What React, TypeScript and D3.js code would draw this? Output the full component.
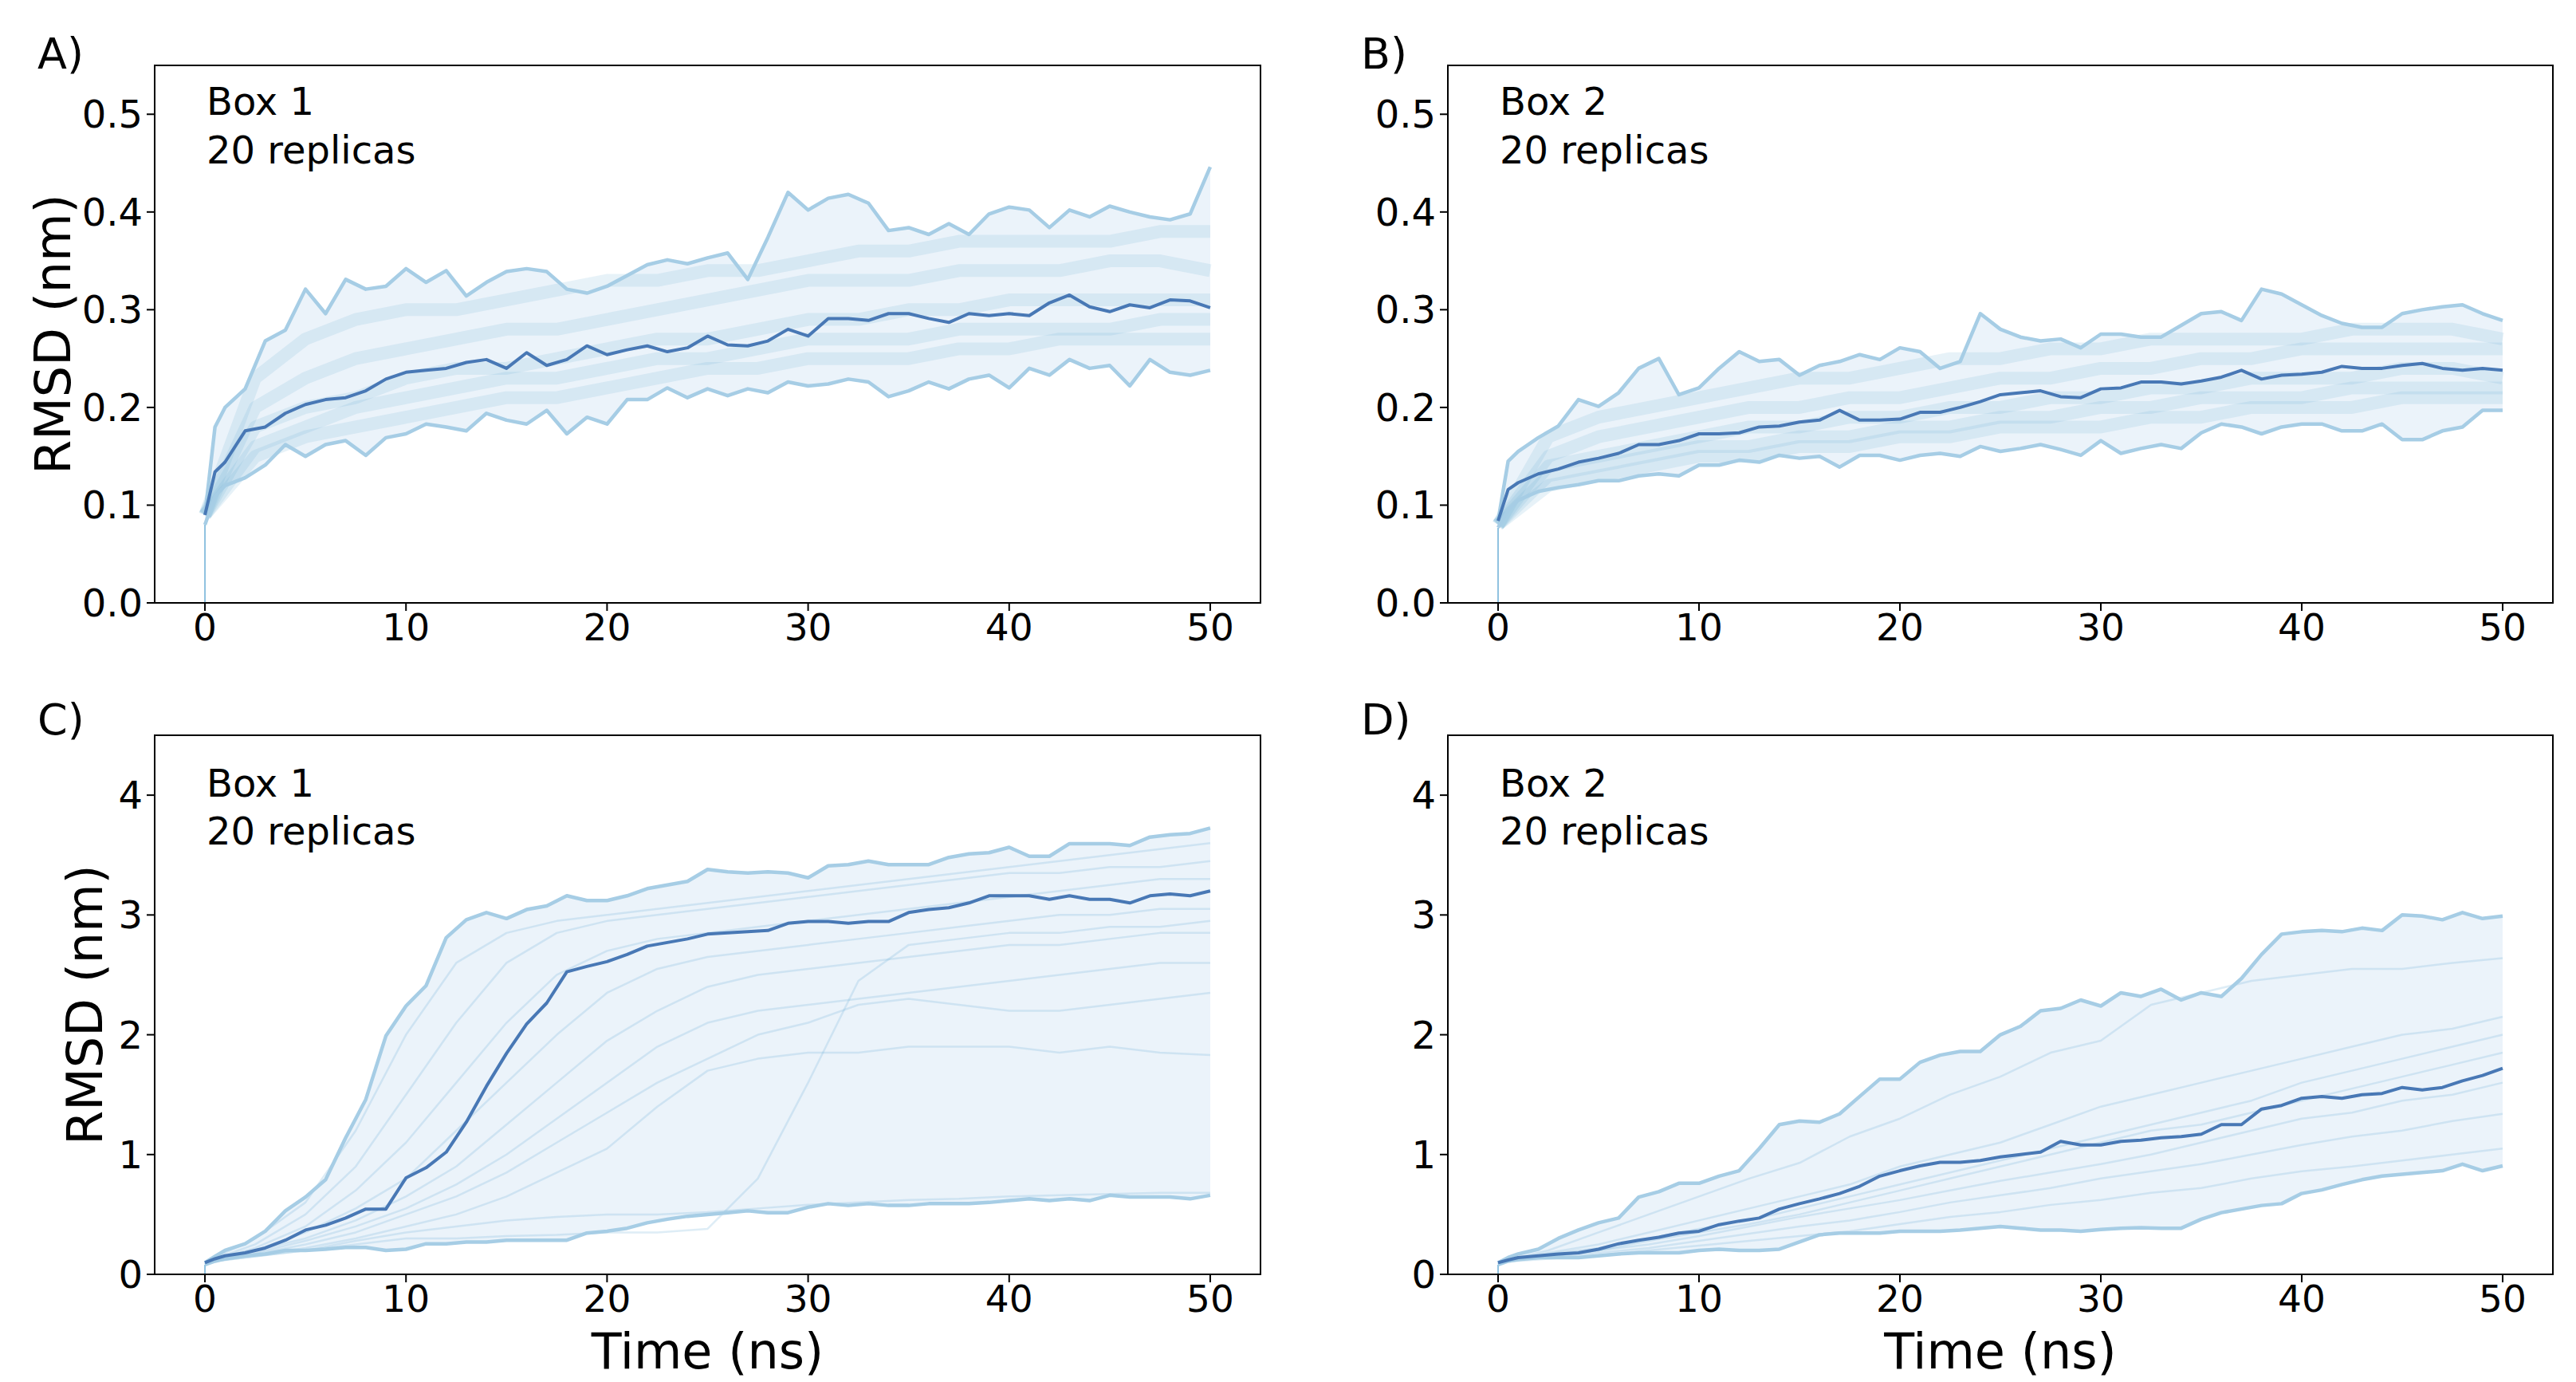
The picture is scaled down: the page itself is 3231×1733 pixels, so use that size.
import * as d3 from 'd3';

const W = 3231;
const H = 1733;
const FONT = "'DejaVu Sans', sans-serif";

// time grid (ns) for mean / envelope traces
const T_NS = [
  0, 0.5, 1, 2, 3, 4, 5, 6, 7, 8, 9, 10, 11, 12, 13, 14, 15, 16, 17, 18, 19, 20, 21, 22, 23, 24, 25,
  26, 27, 28, 29, 30, 31, 32, 33, 34, 35, 36, 37, 38, 39, 40, 41, 42, 43, 44, 45, 46, 47, 48, 49, 50,
];
// coarser grid for the individual replica traces
const T_REP = [0, 2.5, 5, 7.5, 10, 12.5, 15, 17.5, 20, 22.5, 25, 27.5, 30, 32.5, 35, 37.5, 40, 42.5, 45, 47.5, 50];

// ---- A) backbone RMSD, box 1
const A_MEAN = [
  0.09, 0.134, 0.144, 0.176, 0.18, 0.194, 0.203, 0.208, 0.21, 0.217, 0.229, 0.236, 0.238, 0.24, 0.246, 0.249,
  0.24, 0.256, 0.243, 0.249, 0.263, 0.254, 0.259, 0.263, 0.257, 0.261, 0.273, 0.264, 0.263, 0.268, 0.28, 0.273,
  0.291, 0.291, 0.289, 0.296, 0.296, 0.291, 0.287, 0.296, 0.294, 0.296, 0.294, 0.307, 0.315, 0.303, 0.298,
  0.305, 0.302, 0.31, 0.309, 0.302,
];
const A_MAX = [
  0.09, 0.18, 0.2, 0.219, 0.268, 0.279, 0.321, 0.296, 0.331, 0.321, 0.324, 0.342, 0.328, 0.34, 0.314, 0.328,
  0.339, 0.342, 0.339, 0.321, 0.317, 0.324, 0.335, 0.346, 0.351, 0.347, 0.353, 0.358, 0.331, 0.374, 0.42, 0.402,
  0.414, 0.418, 0.409, 0.381, 0.384, 0.377, 0.388, 0.377, 0.398, 0.405, 0.402, 0.384, 0.402, 0.395, 0.406, 0.4,
  0.395, 0.392, 0.398, 0.446,
];
const A_MIN = [
  0.08, 0.109, 0.12, 0.128, 0.141, 0.162, 0.15, 0.162, 0.166, 0.151, 0.169, 0.173, 0.183, 0.18, 0.176, 0.194,
  0.187, 0.183, 0.197, 0.173, 0.19, 0.183, 0.208, 0.208, 0.22, 0.21, 0.219, 0.212, 0.219, 0.215, 0.226, 0.222,
  0.224, 0.229, 0.226, 0.211, 0.217, 0.226, 0.219, 0.229, 0.233, 0.22, 0.24, 0.233, 0.249, 0.24, 0.243, 0.222,
  0.249, 0.236, 0.233, 0.238,
];
const A_REPS = [
  [0.09, 0.23, 0.27, 0.29, 0.3, 0.3, 0.31, 0.32, 0.33, 0.33, 0.34, 0.34, 0.35, 0.36, 0.36, 0.37, 0.37, 0.37, 0.37, 0.38, 0.38],
  [0.09, 0.2, 0.23, 0.25, 0.26, 0.27, 0.28, 0.28, 0.29, 0.3, 0.31, 0.32, 0.33, 0.33, 0.33, 0.34, 0.34, 0.34, 0.35, 0.35, 0.34],
  [0.09, 0.18, 0.2, 0.21, 0.23, 0.24, 0.24, 0.25, 0.26, 0.27, 0.27, 0.28, 0.29, 0.29, 0.3, 0.3, 0.31, 0.31, 0.31, 0.31, 0.31],
  [0.09, 0.16, 0.18, 0.2, 0.21, 0.22, 0.23, 0.23, 0.24, 0.25, 0.25, 0.26, 0.27, 0.27, 0.27, 0.28, 0.28, 0.28, 0.28, 0.29, 0.29],
  [0.09, 0.15, 0.17, 0.18, 0.19, 0.2, 0.21, 0.21, 0.22, 0.23, 0.24, 0.24, 0.25, 0.25, 0.25, 0.26, 0.26, 0.27, 0.27, 0.27, 0.27],
];

// ---- B) backbone RMSD, box 2
const B_MEAN = [
  0.084, 0.116, 0.123, 0.132, 0.137, 0.144, 0.148, 0.153, 0.162, 0.162, 0.166, 0.173, 0.173, 0.174, 0.18, 0.181,
  0.185, 0.187, 0.197, 0.187, 0.187, 0.188, 0.195, 0.195, 0.2, 0.206, 0.213, 0.215, 0.217, 0.211, 0.21, 0.219,
  0.22, 0.226, 0.226, 0.224, 0.227, 0.231, 0.238, 0.229, 0.233, 0.234, 0.236, 0.242, 0.24, 0.24, 0.243, 0.245,
  0.24, 0.238, 0.24, 0.238,
];
const B_MAX = [
  0.084, 0.145, 0.155, 0.169, 0.181, 0.208, 0.201, 0.215, 0.24, 0.25, 0.213, 0.22, 0.24, 0.257, 0.247, 0.249,
  0.233, 0.243, 0.247, 0.254, 0.249, 0.261, 0.257, 0.24, 0.247, 0.296, 0.28, 0.272, 0.268, 0.27, 0.261, 0.275,
  0.275, 0.272, 0.272, 0.284, 0.296, 0.298, 0.289, 0.321, 0.316, 0.305, 0.294, 0.286, 0.282, 0.282, 0.296, 0.3,
  0.303, 0.305, 0.296, 0.289,
];
const B_MIN = [
  0.077, 0.095, 0.105, 0.114, 0.118, 0.121, 0.125, 0.125, 0.13, 0.132, 0.13, 0.141, 0.141, 0.146, 0.144, 0.151,
  0.148, 0.15, 0.139, 0.151, 0.151, 0.146, 0.151, 0.153, 0.15, 0.16, 0.155, 0.158, 0.162, 0.157, 0.151, 0.166,
  0.153, 0.158, 0.162, 0.158, 0.174, 0.183, 0.18, 0.173, 0.18, 0.183, 0.183, 0.176, 0.176, 0.183, 0.167, 0.167,
  0.176, 0.18, 0.197, 0.197,
];
const B_REPS = [
  [0.08, 0.17, 0.19, 0.2, 0.21, 0.22, 0.23, 0.23, 0.24, 0.25, 0.25, 0.26, 0.26, 0.27, 0.27, 0.27, 0.27, 0.28, 0.28, 0.28, 0.27],
  [0.08, 0.15, 0.17, 0.18, 0.19, 0.2, 0.2, 0.21, 0.21, 0.22, 0.23, 0.23, 0.24, 0.24, 0.25, 0.25, 0.26, 0.26, 0.26, 0.26, 0.26],
  [0.08, 0.14, 0.15, 0.16, 0.17, 0.18, 0.18, 0.19, 0.19, 0.2, 0.2, 0.21, 0.21, 0.22, 0.22, 0.23, 0.23, 0.23, 0.24, 0.24, 0.23],
  [0.08, 0.13, 0.14, 0.15, 0.16, 0.16, 0.17, 0.17, 0.18, 0.18, 0.19, 0.19, 0.2, 0.2, 0.21, 0.21, 0.21, 0.22, 0.22, 0.22, 0.22],
  [0.08, 0.12, 0.13, 0.14, 0.15, 0.15, 0.16, 0.16, 0.17, 0.17, 0.18, 0.18, 0.18, 0.19, 0.19, 0.2, 0.2, 0.2, 0.21, 0.21, 0.21],
];

// ---- C) ligand RMSD, box 1
const C_MEAN = [
  0.097, 0.13, 0.155, 0.18, 0.22, 0.285, 0.37, 0.41, 0.47, 0.545, 0.545, 0.805, 0.89, 1.02, 1.27, 1.57, 1.845,
  2.09, 2.265, 2.525, 2.57, 2.61, 2.67, 2.74, 2.77, 2.8, 2.84, 2.85, 2.86, 2.87, 2.93, 2.945, 2.945, 2.93, 2.945,
  2.945, 3.02, 3.045, 3.06, 3.1, 3.16, 3.16, 3.16, 3.13, 3.16, 3.13, 3.13, 3.1, 3.16, 3.175, 3.16, 3.2,
];
const C_MAX = [
  0.097, 0.15, 0.2, 0.255, 0.36, 0.53, 0.645, 0.79, 1.14, 1.46, 1.99, 2.24, 2.41, 2.81, 2.96, 3.02, 2.97, 3.045,
  3.075, 3.16, 3.12, 3.12, 3.16, 3.22, 3.25, 3.28, 3.38, 3.36, 3.35, 3.36, 3.35, 3.31, 3.41, 3.42, 3.45, 3.42,
  3.42, 3.42, 3.48, 3.51, 3.52, 3.565, 3.49, 3.49, 3.595, 3.595, 3.595, 3.58, 3.65, 3.67, 3.68, 3.725,
];
const C_MIN = [
  0.08, 0.11, 0.13, 0.155, 0.17, 0.2, 0.2, 0.21, 0.225, 0.225, 0.2, 0.21, 0.255, 0.255, 0.27, 0.27, 0.285, 0.285,
  0.285, 0.285, 0.345, 0.36, 0.385, 0.43, 0.46, 0.485, 0.5, 0.515, 0.53, 0.515, 0.515, 0.56, 0.59, 0.575, 0.59,
  0.575, 0.575, 0.59, 0.59, 0.59, 0.6, 0.615, 0.63, 0.615, 0.63, 0.615, 0.66, 0.645, 0.645, 0.645, 0.63, 0.66,
];
const C_REPS = [
  [0.1, 0.3, 0.6, 1.2, 2.0, 2.6, 2.85, 2.95, 3.0, 3.05, 3.1, 3.15, 3.2, 3.25, 3.3, 3.35, 3.4, 3.45, 3.5, 3.55, 3.6],
  [0.1, 0.25, 0.5, 0.9, 1.5, 2.1, 2.6, 2.85, 2.95, 3.0, 3.05, 3.1, 3.15, 3.2, 3.25, 3.3, 3.35, 3.35, 3.4, 3.4, 3.45],
  [0.1, 0.22, 0.4, 0.7, 1.1, 1.6, 2.1, 2.5, 2.7, 2.8, 2.85, 2.9, 2.95, 3.0, 3.05, 3.1, 3.15, 3.2, 3.25, 3.3, 3.3],
  [0.1, 0.2, 0.35, 0.55, 0.8, 1.2, 1.6, 2.0, 2.35, 2.55, 2.65, 2.7, 2.75, 2.8, 2.85, 2.9, 2.95, 3.0, 3.0, 3.05, 3.05],
  [0.1, 0.2, 0.3, 0.45, 0.65, 0.9, 1.25, 1.6, 1.95, 2.2, 2.4, 2.5, 2.55, 2.6, 2.65, 2.7, 2.75, 2.75, 2.8, 2.85, 2.85],
  [0.1, 0.18, 0.28, 0.4, 0.55, 0.75, 1.0, 1.3, 1.6, 1.9, 2.1, 2.2, 2.25, 2.3, 2.35, 2.4, 2.45, 2.5, 2.55, 2.6, 2.6],
  [0.1, 0.17, 0.25, 0.35, 0.5, 0.65, 0.85, 1.1, 1.35, 1.6, 1.8, 2.0, 2.1, 2.25, 2.3, 2.25, 2.2, 2.2, 2.25, 2.3, 2.35],
  [0.1, 0.16, 0.22, 0.3, 0.4, 0.5, 0.65, 0.85, 1.05, 1.4, 1.7, 1.8, 1.85, 1.85, 1.9, 1.9, 1.9, 1.85, 1.9, 1.85, 1.83],
  [0.1, 0.15, 0.2, 0.25, 0.3, 0.3, 0.32, 0.33, 0.35, 0.35, 0.38, 0.8, 1.6, 2.45, 2.75, 2.8, 2.85, 2.85, 2.9, 2.9, 2.95],
  [0.1, 0.15, 0.2, 0.28, 0.35, 0.4, 0.45, 0.48, 0.5, 0.5, 0.52, 0.55, 0.58, 0.6, 0.62, 0.63, 0.65, 0.66, 0.67, 0.68, 0.68],
];

// ---- D) ligand RMSD, box 2
const D_MEAN = [
  0.097, 0.12, 0.14, 0.155, 0.17, 0.18, 0.21, 0.255, 0.285, 0.31, 0.345, 0.36, 0.415, 0.445, 0.47, 0.545, 0.59,
  0.63, 0.675, 0.735, 0.82, 0.865, 0.905, 0.935, 0.935, 0.95, 0.98, 1.0, 1.02, 1.11, 1.08, 1.08, 1.11, 1.12,
  1.14, 1.15, 1.17, 1.25, 1.25, 1.38, 1.41, 1.47, 1.485, 1.47, 1.5, 1.51, 1.56, 1.54, 1.56, 1.615, 1.66, 1.72,
];
const D_MAX = [
  0.097, 0.14, 0.17, 0.21, 0.3, 0.37, 0.43, 0.47, 0.645, 0.69, 0.76, 0.76, 0.82, 0.865, 1.05, 1.25, 1.28, 1.27,
  1.34, 1.485, 1.63, 1.63, 1.77, 1.83, 1.86, 1.86, 2.0, 2.07, 2.2, 2.22, 2.29, 2.24, 2.35, 2.32, 2.38, 2.29, 2.35,
  2.32, 2.47, 2.67, 2.84, 2.86, 2.87, 2.86, 2.89, 2.87, 3.0, 2.99, 2.96, 3.02, 2.97, 2.99,
];
const D_MIN = [
  0.08, 0.11, 0.125, 0.14, 0.14, 0.14, 0.155, 0.17, 0.18, 0.18, 0.18, 0.2, 0.21, 0.2, 0.2, 0.21, 0.27, 0.33,
  0.345, 0.345, 0.345, 0.36, 0.36, 0.36, 0.37, 0.385, 0.4, 0.385, 0.37, 0.37, 0.36, 0.375, 0.385, 0.39, 0.385,
  0.385, 0.46, 0.515, 0.545, 0.575, 0.59, 0.675, 0.705, 0.75, 0.79, 0.82, 0.835, 0.85, 0.865, 0.92, 0.865, 0.905,
];
const D_REPS = [
  [0.1, 0.2, 0.35, 0.5, 0.65, 0.8, 0.93, 1.15, 1.3, 1.5, 1.65, 1.85, 1.95, 2.25, 2.35, 2.45, 2.5, 2.55, 2.55, 2.6, 2.64],
  [0.1, 0.18, 0.25, 0.35, 0.45, 0.55, 0.65, 0.75, 0.9, 1.0, 1.1, 1.25, 1.4, 1.5, 1.6, 1.7, 1.8, 1.9, 2.0, 2.05, 2.15],
  [0.1, 0.17, 0.22, 0.3, 0.38, 0.45, 0.55, 0.65, 0.75, 0.85, 0.95, 1.05, 1.15, 1.25, 1.35, 1.45, 1.6, 1.7, 1.8, 1.9, 2.0],
  [0.1, 0.15, 0.2, 0.28, 0.35, 0.42, 0.5, 0.6, 0.7, 0.8, 0.9, 1.0, 1.1, 1.2, 1.25, 1.35, 1.45, 1.55, 1.65, 1.75, 1.85],
  [0.1, 0.15, 0.2, 0.25, 0.32, 0.4, 0.48, 0.55, 0.62, 0.7, 0.78, 0.85, 0.92, 1.0, 1.1, 1.2, 1.3, 1.35, 1.45, 1.5, 1.6],
  [0.1, 0.14, 0.18, 0.22, 0.28, 0.34, 0.4, 0.45, 0.52, 0.6, 0.66, 0.72, 0.8, 0.86, 0.92, 1.0, 1.08, 1.15, 1.2, 1.28, 1.34],
  [0.1, 0.13, 0.16, 0.2, 0.24, 0.28, 0.32, 0.36, 0.42, 0.48, 0.52, 0.58, 0.62, 0.68, 0.72, 0.8, 0.86, 0.9, 0.95, 1.0, 1.05],
];

const X_TICKS = [0, 10, 20, 30, 40, 50];
const Y_TICKS_TOP = [0, 0.1, 0.2, 0.3, 0.4, 0.5];
const Y_TICKS_BOTTOM = [0, 1, 2, 3, 4];

// figure layout (px)
const COLS = [
  { left: 194, right: 1581 },
  { left: 1816, right: 3202 },
];
const ROWS = [
  { top: 82, bottom: 756 },
  { top: 922, bottom: 1598 },
];

const FILL = '#ebf3fa';
const EDGE = '#a6cde5';
const MEAN = '#4878b5';
const REP = '#6baed6';

interface PanelProps {
  id: string;
  letter: string;
  box: string;
  col: number;
  row: number;
  mean: number[];
  max: number[];
  min: number[];
  reps: number[][];
  yMax: number;
  yTicks: number[];
  yFmt: (v: number) => string;
  repWidth: number;
  repOpacity: number;
  yLabelX: number | null;
  xLabel: boolean;
  textBase: [number, number];
}

function Panel(p: PanelProps) {
  const { left, right } = COLS[p.col];
  const { top, bottom } = ROWS[p.row];
  const x = d3.scaleLinear().domain([-2.5, 52.5]).range([left, right]);
  const y = d3.scaleLinear().domain([0, p.yMax]).range([bottom, top]);

  const pts = (vals: number[]) => T_NS.map((t, i) => [t, vals[i]] as [number, number]);
  const line = d3
    .line<[number, number]>()
    .x((d) => x(d[0]))
    .y((d) => y(d[1]));
  const band = d3
    .area<number>()
    .x((_, i) => x(T_NS[i]))
    .y0((_, i) => y(p.min[i]))
    .y1((d) => y(d));

  const clipId = `clip-${p.id}`;
  const midX = (left + right) / 2;
  const midY = (top + bottom) / 2;

  return (
    <g>
      <defs>
        <clipPath id={clipId}>
          <rect x={left} y={top} width={right - left} height={bottom - top} />
        </clipPath>
      </defs>

      <g clipPath={`url(#${clipId})`}>
        {/* min-max envelope */}
        <path d={band(p.max) ?? ''} fill={FILL} />

        {/* individual replicas */}
        {p.reps.map((r, k) => (
          <path
            key={k}
            d={line(T_REP.map((t, i) => [t, r[i]] as [number, number])) ?? ''}
            fill='none'
            stroke={REP}
            strokeWidth={p.repWidth}
            strokeOpacity={p.repOpacity}
            strokeLinejoin='round'
          />
        ))}
        {/* RMSD is 0 at the first frame */}
        <line x1={x(0)} x2={x(0)} y1={y(0)} y2={y(p.min[0])} stroke={REP} strokeWidth={1.5} />

        <path d={line(pts(p.max)) ?? ''} fill='none' stroke={EDGE} strokeWidth={4.5} strokeLinejoin='round' />
        <path d={line(pts(p.min)) ?? ''} fill='none' stroke={EDGE} strokeWidth={4.5} strokeLinejoin='round' />
        <path d={line(pts(p.mean)) ?? ''} fill='none' stroke={MEAN} strokeWidth={4} strokeLinejoin='round' />
      </g>

      {/* frame */}
      <rect x={left} y={top} width={right - left} height={bottom - top} fill='none' stroke='#000' strokeWidth={2} />

      {/* x axis */}
      {X_TICKS.map((t) => (
        <g key={`x${t}`}>
          <line x1={x(t)} x2={x(t)} y1={bottom} y2={bottom + 10} stroke='#000' strokeWidth={2} />
          <text x={x(t)} y={bottom + 47} textAnchor='middle' fontSize={47} fontFamily={FONT}>
            {t}
          </text>
        </g>
      ))}

      {/* y axis */}
      {p.yTicks.map((v) => (
        <g key={`y${v}`}>
          <line x1={left - 10} x2={left} y1={y(v)} y2={y(v)} stroke='#000' strokeWidth={2} />
          <text x={left - 15} y={y(v) + 17} textAnchor='end' fontSize={48} fontFamily={FONT}>
            {p.yFmt(v)}
          </text>
        </g>
      ))}

      {p.yLabelX !== null && (
        <text
          transform={`translate(${p.yLabelX},${midY}) rotate(-90)`}
          textAnchor='middle'
          fontSize={62}
          fontFamily={FONT}
        >
          RMSD (nm)
        </text>
      )}
      {p.xLabel && (
        <text x={midX} y={1716} textAnchor='middle' fontSize={62} fontFamily={FONT}>
          Time (ns)
        </text>
      )}

      {/* annotations */}
      <text x={left + 65} y={p.textBase[0]} fontSize={48} fontFamily={FONT}>
        {p.box}
      </text>
      <text x={left + 65} y={p.textBase[1]} fontSize={48} fontFamily={FONT}>
        20 replicas
      </text>
      <text x={p.col === 0 ? 47 : 1707} y={p.row === 0 ? 86 : 921} fontSize={54} fontFamily={FONT}>
        {p.letter}
      </text>
    </g>
  );
}

export default function App() {
  const fmtTop = d3.format('.1f');
  const fmtBottom = d3.format('d');
  return (
    <svg
      width={W}
      height={H}
      viewBox={`0 0 ${W} ${H}`}
      style={{ position: 'absolute', left: 0, top: 0, background: '#fff' }}
    >
      <rect width={W} height={H} fill='#fff' />
      <Panel
        id='a'
        letter='A)'
        box='Box 1'
        col={0}
        row={0}
        mean={A_MEAN}
        max={A_MAX}
        min={A_MIN}
        reps={A_REPS}
        yMax={0.55}
        yTicks={Y_TICKS_TOP}
        yFmt={fmtTop}
        repWidth={16}
        repOpacity={0.16}
        yLabelX={88}
        xLabel={false}
        textBase={[144, 205]}
      />
      <Panel
        id='b'
        letter='B)'
        box='Box 2'
        col={1}
        row={0}
        mean={B_MEAN}
        max={B_MAX}
        min={B_MIN}
        reps={B_REPS}
        yMax={0.55}
        yTicks={Y_TICKS_TOP}
        yFmt={fmtTop}
        repWidth={16}
        repOpacity={0.16}
        yLabelX={null}
        xLabel={false}
        textBase={[144, 205]}
      />
      <Panel
        id='c'
        letter='C)'
        box='Box 1'
        col={0}
        row={1}
        mean={C_MEAN}
        max={C_MAX}
        min={C_MIN}
        reps={C_REPS}
        yMax={4.5}
        yTicks={Y_TICKS_BOTTOM}
        yFmt={fmtBottom}
        repWidth={2.5}
        repOpacity={0.22}
        yLabelX={128}
        xLabel={true}
        textBase={[999, 1059]}
      />
      <Panel
        id='d'
        letter='D)'
        box='Box 2'
        col={1}
        row={1}
        mean={D_MEAN}
        max={D_MAX}
        min={D_MIN}
        reps={D_REPS}
        yMax={4.5}
        yTicks={Y_TICKS_BOTTOM}
        yFmt={fmtBottom}
        repWidth={2.5}
        repOpacity={0.22}
        yLabelX={null}
        xLabel={true}
        textBase={[999, 1059]}
      />
    </svg>
  );
}
